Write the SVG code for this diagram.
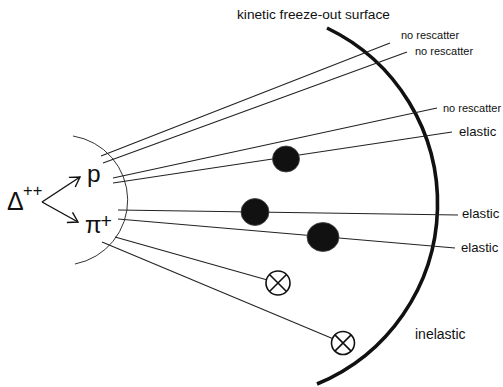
<svg xmlns="http://www.w3.org/2000/svg" width="503" height="387" viewBox="0 0 503 387">
<style>
text{font-family:"Liberation Sans",Arial,sans-serif;fill:#111}
.ln{stroke:#222;stroke-width:1.1;fill:none}
.lbl{font-size:11px}
.lbl2{font-size:13.2px}
.dot{fill:#111;stroke:#444;stroke-width:0.8}
.xc{fill:#fff;stroke:#111;stroke-width:1.6}
</style>
<defs>
<marker id="ah" markerUnits="userSpaceOnUse" markerWidth="24" markerHeight="24" refX="0" refY="0" viewBox="-12 -12 24 24" orient="auto" overflow="visible">
<path d="M-9.5,-5.8 L0,0 L-9.5,5.8" fill="none" stroke="#111" stroke-width="1.4"/>
</marker>
</defs>
<g id="surface">
<path d="M327,28 A195,195 0 0 1 317,384" fill="none" stroke="#111" stroke-width="3.6"/>
<text x="237" y="19" style="font-size:13.7px">kinetic freeze-out surface</text>
</g>
<g id="source-arc">
<path d="M73,136 A65,65 0 0 1 75,264" fill="none" stroke="#333" stroke-width="1"/>
</g>
<g id="connectors">
<line class="ln" x1="42" y1="202" x2="80" y2="177" marker-end="url(#ah)" style="stroke:#111;stroke-width:1.4"/>
<line class="ln" x1="42" y1="202" x2="78" y2="222" marker-end="url(#ah)" style="stroke:#111;stroke-width:1.4"/>
<line class="ln" x1="101" y1="156" x2="390" y2="43"/>
<line class="ln" x1="103" y1="163" x2="407" y2="52"/>
<line class="ln" x1="113" y1="178" x2="437" y2="108"/>
<line class="ln" x1="113" y1="183" x2="452" y2="132"/>
<line class="ln" x1="118" y1="210" x2="458" y2="215"/>
<line class="ln" x1="118" y1="219" x2="455" y2="248"/>
<line class="ln" x1="115" y1="237" x2="266.5" y2="279.7"/>
<line class="ln" x1="102" y1="242" x2="332.4" y2="338.5"/>
</g>
<g id="delta">
<text x="7" y="210" style="font-size:25px">Δ</text>
<text x="23" y="196" style="font-size:16.5px">++</text>
</g>
<g id="proton">
<text x="87" y="182" style="font-size:24.5px">p</text>
</g>
<g id="pion">
<text x="85" y="233" style="font-size:24px">π</text>
<text x="100.5" y="228" style="font-size:19.5px">+</text>
</g>
<g id="dot1"><ellipse class="dot" cx="286" cy="159" rx="13.5" ry="13"/></g>
<g id="dot2"><ellipse class="dot" cx="255" cy="212" rx="14" ry="13.5"/></g>
<g id="dot3"><ellipse class="dot" cx="323" cy="237" rx="16" ry="14.5"/></g>
<g id="inel1">
<circle class="xc" cx="278" cy="283" r="12"/>
<path d="M269.5,274.5 L286.5,291.5 M286.5,274.5 L269.5,291.5" stroke="#111" stroke-width="1.6"/>
</g>
<g id="inel2">
<circle class="xc" cx="343" cy="343" r="11.5"/>
<path d="M334.9,334.9 L351.1,351.1 M351.1,334.9 L334.9,351.1" stroke="#111" stroke-width="1.6"/>
</g>
<g id="labels">
<text class="lbl" x="401" y="39">no rescatter</text>
<text class="lbl" x="415" y="55">no rescatter</text>
<text class="lbl" x="443" y="112">no rescatter</text>
<text class="lbl2" x="459" y="136">elastic</text>
<text class="lbl2" x="462" y="218">elastic</text>
<text class="lbl2" x="461" y="252">elastic</text>
<text x="415" y="339" style="font-size:14px">inelastic</text>
</g>
</svg>
